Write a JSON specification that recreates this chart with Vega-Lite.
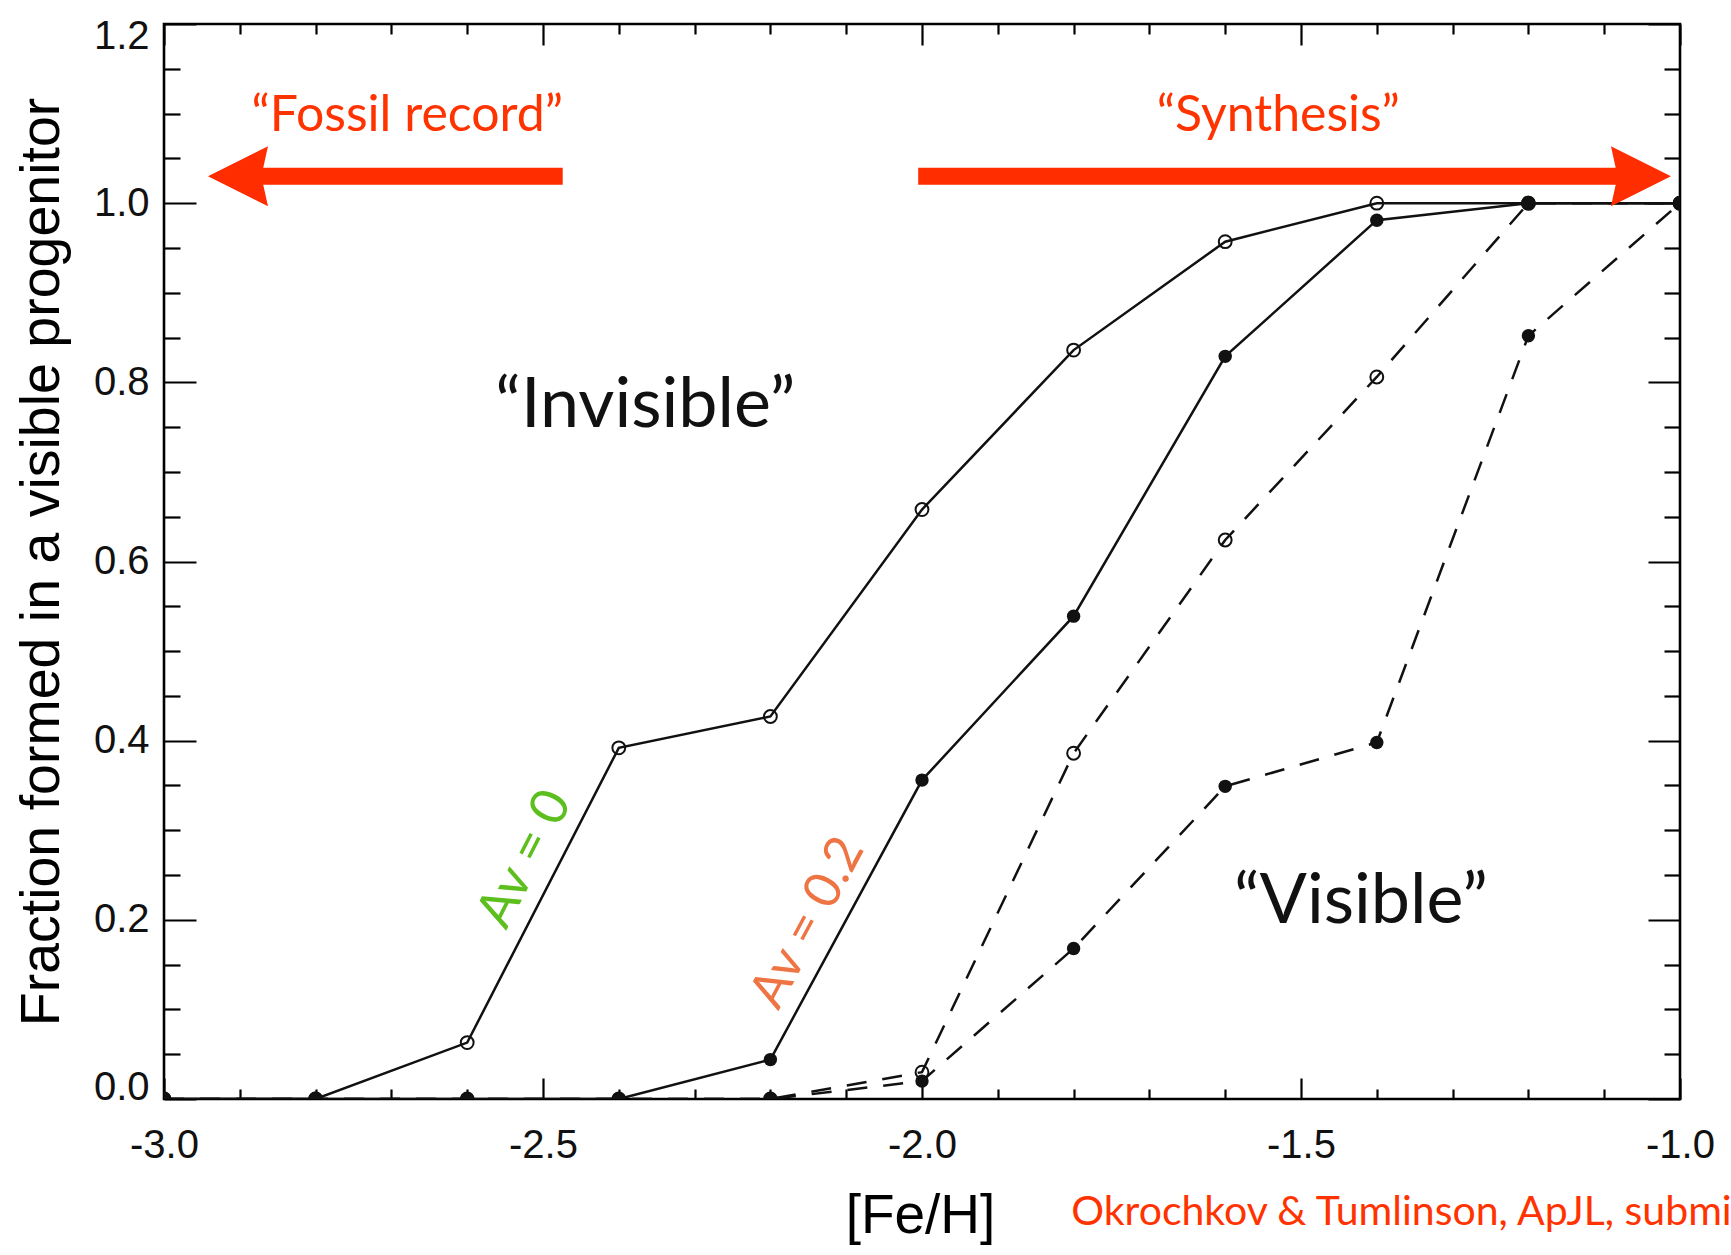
{
  "$schema": "https://vega.github.io/schema/vega-lite/v6.json",
  "width": 1516,
  "height": 1075,
  "autosize": {"type": "none"},
  "padding": {"left": 164, "top": 24, "right": 51, "bottom": 156},
  "background": "white",
  "config": {
    "view": {"stroke": "#000", "strokeWidth": 2.6},
    "axis": {
      "grid": false,
      "domain": false,
      "tickColor": "#000",
      "tickWidth": 2.2,
      "labelFont": "Liberation Sans",
      "labelColor": "#111",
      "titleFont": "Liberation Sans",
      "titleColor": "#000",
      "titleFontWeight": "normal"
    }
  },
  "datasets": {
    "curves": [
      {"model": "A", "av": "0", "feh": -3.0, "frac": 0},
      {"model": "A", "av": "0", "feh": -2.8, "frac": 0},
      {"model": "A", "av": "0", "feh": -2.6, "frac": 0.063},
      {"model": "A", "av": "0", "feh": -2.4, "frac": 0.392},
      {"model": "A", "av": "0", "feh": -2.2, "frac": 0.427},
      {"model": "A", "av": "0", "feh": -2.0, "frac": 0.658},
      {"model": "A", "av": "0", "feh": -1.8, "frac": 0.836},
      {"model": "A", "av": "0", "feh": -1.6, "frac": 0.957},
      {"model": "A", "av": "0", "feh": -1.4, "frac": 1.0},
      {"model": "A", "av": "0", "feh": -1.2, "frac": 1.0},
      {"model": "A", "av": "0", "feh": -1.0, "frac": 1.0},
      {"model": "A", "av": "0.2", "feh": -3.0, "frac": 0},
      {"model": "A", "av": "0.2", "feh": -2.8, "frac": 0},
      {"model": "A", "av": "0.2", "feh": -2.6, "frac": 0},
      {"model": "A", "av": "0.2", "feh": -2.4, "frac": 0},
      {"model": "A", "av": "0.2", "feh": -2.2, "frac": 0.044},
      {"model": "A", "av": "0.2", "feh": -2.0, "frac": 0.356},
      {"model": "A", "av": "0.2", "feh": -1.8, "frac": 0.539},
      {"model": "A", "av": "0.2", "feh": -1.6, "frac": 0.829},
      {"model": "A", "av": "0.2", "feh": -1.4, "frac": 0.981},
      {"model": "A", "av": "0.2", "feh": -1.2, "frac": 1.0},
      {"model": "A", "av": "0.2", "feh": -1.0, "frac": 1.0},
      {"model": "B", "av": "0", "feh": -3.0, "frac": 0},
      {"model": "B", "av": "0", "feh": -2.8, "frac": 0},
      {"model": "B", "av": "0", "feh": -2.6, "frac": 0},
      {"model": "B", "av": "0", "feh": -2.4, "frac": 0},
      {"model": "B", "av": "0", "feh": -2.2, "frac": 0},
      {"model": "B", "av": "0", "feh": -2.0, "frac": 0.03},
      {"model": "B", "av": "0", "feh": -1.8, "frac": 0.386},
      {"model": "B", "av": "0", "feh": -1.6, "frac": 0.624},
      {"model": "B", "av": "0", "feh": -1.4, "frac": 0.806},
      {"model": "B", "av": "0", "feh": -1.2, "frac": 1.0},
      {"model": "B", "av": "0", "feh": -1.0, "frac": 1.0},
      {"model": "B", "av": "0.2", "feh": -3.0, "frac": 0},
      {"model": "B", "av": "0.2", "feh": -2.8, "frac": 0},
      {"model": "B", "av": "0.2", "feh": -2.6, "frac": 0},
      {"model": "B", "av": "0.2", "feh": -2.4, "frac": 0},
      {"model": "B", "av": "0.2", "feh": -2.2, "frac": 0},
      {"model": "B", "av": "0.2", "feh": -2.0, "frac": 0.02},
      {"model": "B", "av": "0.2", "feh": -1.8, "frac": 0.168},
      {"model": "B", "av": "0.2", "feh": -1.6, "frac": 0.349},
      {"model": "B", "av": "0.2", "feh": -1.4, "frac": 0.398},
      {"model": "B", "av": "0.2", "feh": -1.2, "frac": 0.852},
      {"model": "B", "av": "0.2", "feh": -1.0, "frac": 1.0}
    ],
    "shafts": [
      {"dir": "left", "x1": -2.887, "x2": -2.474, "y": 1.03},
      {"dir": "right", "x1": -2.005, "x2": -1.073, "y": 1.03}
    ],
    "heads": [
      {"dir": "left", "x": -2.9024, "y": 1.03},
      {"dir": "right", "x": -1.0515, "y": 1.03}
    ],
    "notes": [
      {"id": "fossil", "label": "“Fossil record”", "x": -2.679, "y": 1.081},
      {"id": "synth", "label": "“Synthesis”", "x": -1.530, "y": 1.081},
      {"id": "invis", "label": "“Invisible”", "x": -2.365, "y": 0.750},
      {"id": "vis", "label": "“Visible”", "x": -1.421, "y": 0.1965},
      {"id": "av0", "label": "Av = 0", "x": -2.524, "y": 0.268},
      {"id": "av02", "label": "Av = 0.2", "x": -2.150, "y": 0.1965},
      {"id": "cite", "label": "Okrochkov & Tumlinson, ApJL, submitted", "x": -1.803, "y": -0.1407}
    ]
  },
  "resolve": {"axis": {"x": "independent", "y": "independent"}},
  "layer": [
    {
      "data": {"name": "curves"},
      "transform": [{"filter": "datum.model === 'A'"}],
      "mark": {"type": "line", "color": "#111", "strokeWidth": 2.5, "clip": true},
      "encoding": {
        "x": {
          "field": "feh", "type": "quantitative",
          "scale": {"domain": [-3, -1], "nice": false, "zero": false},
          "axis": {
            "orient": "bottom", "values": [-3, -2.5, -2, -1.5, -1], "format": ".1f",
            "labelExpr": "replace(datum.label, '\u2212', '-')",
            "tickSize": -21, "labelPadding": 47, "labelFontSize": 40, "labelFlush": false,
            "labelBaseline": "top", "labelAlign": "center",
            "title": "[Fe/H]", "titleFontSize": 55, "titleX": 756, "titleY": 133,
            "titleBaseline": "alphabetic", "titleAlign": "center"
          }
        },
        "y": {
          "field": "frac", "type": "quantitative",
          "scale": {"domain": [0, 1.2], "nice": false, "zero": false},
          "axis": {
            "orient": "left", "values": [0, 0.2, 0.4, 0.6, 0.8, 1, 1.2], "format": ".1f",
            "tickSize": -32, "labelPadding": 47, "labelFontSize": 40,
            "labelFlush": true, "labelFlushOffset": 8,
            "title": "Fraction formed in a visible progenitor", "titleFontSize": 55.5,
            "titleX": -106, "titleY": 537.5, "titleAngle": 270,
            "titleBaseline": "alphabetic", "titleAlign": "center"
          }
        },
        "detail": {"field": "av", "type": "nominal"}
      }
    },
    {
      "data": {"name": "curves"},
      "transform": [{"filter": "datum.model === 'B'"}],
      "mark": {"type": "line", "color": "#111", "strokeWidth": 2.5, "strokeDash": [20, 16], "clip": true},
      "encoding": {
        "x": {
          "field": "feh", "type": "quantitative",
          "scale": {"domain": [-3, -1], "nice": false, "zero": false},
          "axis": {
            "orient": "bottom",
            "values": [-2.9, -2.8, -2.7, -2.6, -2.4, -2.3, -2.2, -2.1, -1.9, -1.8, -1.7, -1.6, -1.4, -1.3, -1.2, -1.1],
            "tickSize": -10, "labels": false, "title": null
          }
        },
        "y": {
          "field": "frac", "type": "quantitative",
          "scale": {"domain": [0, 1.2], "nice": false, "zero": false},
          "axis": {
            "orient": "left",
            "values": [0.05, 0.1, 0.15, 0.25, 0.3, 0.35, 0.45, 0.5, 0.55, 0.65, 0.7, 0.75, 0.85, 0.9, 0.95, 1.05, 1.1, 1.15],
            "tickSize": -16, "labels": false, "title": null
          }
        },
        "detail": {"field": "av", "type": "nominal"}
      }
    },
    {
      "data": {"name": "curves"},
      "transform": [{"filter": "datum.av === '0'"}],
      "mark": {"type": "point", "shape": "circle", "filled": false, "stroke": "#111", "strokeWidth": 2, "size": 165, "opacity": 1, "clip": true},
      "encoding": {
        "x": {
          "field": "feh", "type": "quantitative",
          "scale": {"domain": [-3, -1], "nice": false, "zero": false},
          "axis": {"orient": "top", "values": [-3, -2.5, -2, -1.5, -1], "tickSize": -21, "labels": false, "title": null}
        },
        "y": {
          "field": "frac", "type": "quantitative",
          "scale": {"domain": [0, 1.2], "nice": false, "zero": false},
          "axis": {"orient": "right", "values": [0, 0.2, 0.4, 0.6, 0.8, 1, 1.2], "tickSize": -32, "labels": false, "title": null}
        }
      }
    },
    {
      "data": {"name": "curves"},
      "transform": [{"filter": "datum.av === '0.2'"}],
      "mark": {"type": "point", "shape": "circle", "filled": true, "color": "#111", "size": 180, "opacity": 1, "clip": true},
      "encoding": {
        "x": {
          "field": "feh", "type": "quantitative",
          "scale": {"domain": [-3, -1], "nice": false, "zero": false},
          "axis": {
            "orient": "top",
            "values": [-2.9, -2.8, -2.7, -2.6, -2.4, -2.3, -2.2, -2.1, -1.9, -1.8, -1.7, -1.6, -1.4, -1.3, -1.2, -1.1],
            "tickSize": -10, "labels": false, "title": null
          }
        },
        "y": {
          "field": "frac", "type": "quantitative",
          "scale": {"domain": [0, 1.2], "nice": false, "zero": false},
          "axis": {
            "orient": "right",
            "values": [0.05, 0.1, 0.15, 0.25, 0.3, 0.35, 0.45, 0.5, 0.55, 0.65, 0.7, 0.75, 0.85, 0.9, 0.95, 1.05, 1.1, 1.15],
            "tickSize": -16, "labels": false, "title": null
          }
        }
      }
    },
    {
      "data": {"name": "shafts"},
      "mark": {"type": "rule", "color": "#FF2D00", "strokeWidth": 17, "strokeCap": "butt"},
      "encoding": {
        "x": {"field": "x1", "type": "quantitative", "axis": null},
        "x2": {"field": "x2"},
        "y": {"field": "y", "type": "quantitative", "axis": null}
      }
    },
    {
      "data": {"name": "heads"},
      "mark": {"type": "point", "filled": true, "color": "#FF2D00", "size": 3600, "opacity": 1, "strokeWidth": 0},
      "encoding": {
        "x": {"field": "x", "type": "quantitative", "axis": null},
        "y": {"field": "y", "type": "quantitative", "axis": null},
        "shape": {
          "field": "dir", "type": "nominal", "legend": null,
          "scale": {"domain": ["left", "right"], "range": ["M-1,0L1,-1L0.78,0L1,1Z", "M1,0L-1,-1L-0.78,0L-1,1Z"]}
        }
      }
    },
    {
      "data": {"name": "notes"},
      "transform": [{"filter": "datum.id === 'fossil' || datum.id === 'synth'"}],
      "mark": {"type": "text", "font": "Lato", "fontSize": 50, "color": "#FF3300", "align": "center", "baseline": "alphabetic"},
      "encoding": {
        "x": {"field": "x", "type": "quantitative", "axis": null},
        "y": {"field": "y", "type": "quantitative", "axis": null},
        "text": {"field": "label"}
      }
    },
    {
      "data": {"name": "notes"},
      "transform": [{"filter": "datum.id === 'invis' || datum.id === 'vis'"}],
      "mark": {"type": "text", "font": "Lato", "fontSize": 70, "color": "#111", "align": "center", "baseline": "alphabetic"},
      "encoding": {
        "x": {"field": "x", "type": "quantitative", "axis": null},
        "y": {"field": "y", "type": "quantitative", "axis": null},
        "text": {"field": "label"}
      }
    },
    {
      "data": {"name": "notes"},
      "transform": [{"filter": "datum.id === 'av0'"}],
      "mark": {"type": "text", "font": "Lato", "fontSize": 52, "color": "#5CBF1E", "align": "center", "baseline": "middle", "angle": 297},
      "encoding": {
        "x": {"field": "x", "type": "quantitative", "axis": null},
        "y": {"field": "y", "type": "quantitative", "axis": null},
        "text": {"field": "label"}
      }
    },
    {
      "data": {"name": "notes"},
      "transform": [{"filter": "datum.id === 'av02'"}],
      "mark": {"type": "text", "font": "Lato", "fontSize": 51, "color": "#EE7444", "align": "center", "baseline": "middle", "angle": 298},
      "encoding": {
        "x": {"field": "x", "type": "quantitative", "axis": null},
        "y": {"field": "y", "type": "quantitative", "axis": null},
        "text": {"field": "label"}
      }
    },
    {
      "data": {"name": "notes"},
      "transform": [{"filter": "datum.id === 'cite'"}],
      "mark": {"type": "text", "font": "Lato", "fontSize": 41, "color": "#FF3300", "align": "left", "baseline": "alphabetic"},
      "encoding": {
        "x": {"field": "x", "type": "quantitative", "axis": null},
        "y": {"field": "y", "type": "quantitative", "axis": null},
        "text": {"field": "label"}
      }
    }
  ]
}
